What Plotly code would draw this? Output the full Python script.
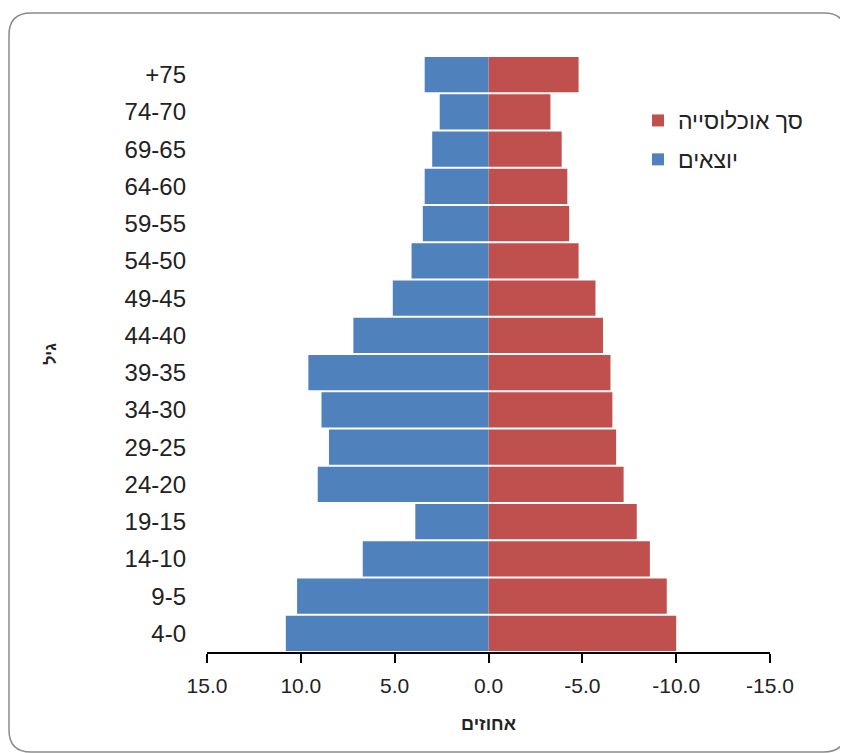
import plotly.graph_objects as go

# Data (bottom to top)
age_groups = ["4-0", "9-5", "14-10", "19-15", "24-20", "29-25", "34-30", "39-35",
              "44-40", "49-45", "54-50", "59-55", "64-60", "69-65", "74-70", "+75"]
emigrants = [10.8, 10.2, 6.7, 3.9, 9.1, 8.5, 8.9, 9.6,
             7.2, 5.1, 4.1, 3.5, 3.4, 3.0, 2.6, 3.4]
total_population = [-10.0, -9.5, -8.6, -7.9, -7.2, -6.8, -6.6, -6.5,
                    -6.1, -5.7, -4.8, -4.3, -4.2, -3.9, -3.3, -4.8]
x_ticks = [15, 10, 5, 0, -5, -10, -15]
x_tick_labels = ["15.0", "10.0", "5.0", "0.0", "-5.0", "-10.0", "-15.0"]

OFF = 8  # page body offset
W, H = 848 - OFF, 753 - OFF
L, T = 207 - OFF, 56 - OFF
R = W - (770 - OFF)
B = H - (652 - OFF)
pw, ph = W - L - R, H - T - B

def px(x):
    return (x - OFF - L) / pw

def py(y):
    return (H - B - (y - OFF)) / ph

FONT = "Arial, Liberation Sans, DejaVu Sans, sans-serif"
BLUE = "#4F81BD"
RED = "#C0504D"

fig = go.Figure()
fig.add_trace(go.Bar(
    y=age_groups, x=total_population, orientation="h", name="סך אוכלוסייה",
    marker=dict(color=RED, line=dict(width=0)), legendgroup="a", legendrank=1,
))
fig.add_trace(go.Bar(
    y=age_groups, x=emigrants, orientation="h", name="יוצאים",
    marker=dict(color=BLUE, line=dict(width=0)), legendgroup="b", legendrank=2,
))

# rounded border (reference page pixels)
x0, x1, y0, y1, r = 9, 846, 13, 752, 22
path = (f"M {px(x0 + r)} {py(y0)} L {px(x1 - r)} {py(y0)} "
        f"Q {px(x1)} {py(y0)} {px(x1)} {py(y0 + r)} L {px(x1)} {py(y1 - r)} "
        f"Q {px(x1)} {py(y1)} {px(x1 - r)} {py(y1)} L {px(x0 + r)} {py(y1)} "
        f"Q {px(x0)} {py(y1)} {px(x0)} {py(y1 - r)} L {px(x0)} {py(y0 + r)} "
        f"Q {px(x0)} {py(y0)} {px(x0 + r)} {py(y0)} Z")

fig.update_layout(
    width=W, height=H,
    margin=dict(l=L, r=R, t=T, b=B),
    paper_bgcolor="white", plot_bgcolor="white",
    barmode="overlay", bargap=0.05,
    font=dict(family=FONT, color="#222222"),
    showlegend=True,
    legend=dict(
        x=px(638), y=py(99), xanchor="left", yanchor="top",
        font=dict(size=23, color="#222222"),
        tracegroupgap=6, bgcolor="rgba(0,0,0,0)",
    ),
    xaxis=dict(
        range=[15, -15], tickvals=x_ticks, ticktext=x_tick_labels,
        showline=True, linecolor="#000000", linewidth=1.5,
        ticks="outside", ticklen=9, tickcolor="#000000", tickwidth=1.5,
        ticklabelstandoff=5,
        showgrid=False, zeroline=False,
        tickfont=dict(size=21, color="#222222"),
        title=dict(text="<b>אחוזים</b>", font=dict(size=18, color="#222222"), standoff=21),
    ),
    yaxis=dict(
        categoryorder="array", categoryarray=age_groups,
        range=[-0.5, 15.5],
        showline=False, showgrid=False, zeroline=False, ticks="",
        ticklabelstandoff=20,
        tickfont=dict(size=24, color="#222222"),
        title=dict(text="<b>גיל</b>", font=dict(size=16, color="#222222"), standoff=64),
    ),
    shapes=[dict(type="path", xref="paper", yref="paper", path=path,
                 line=dict(color="#8a8a8a", width=1.5), fillcolor="rgba(0,0,0,0)",
                 layer="below")],
)

fig.write_html("out.html")
